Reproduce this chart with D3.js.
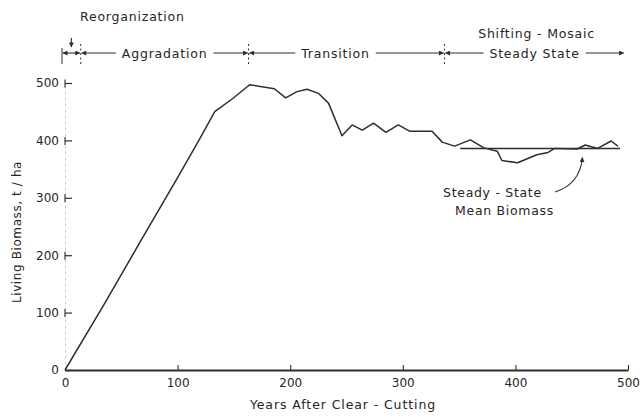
<!DOCTYPE html>
<html>
<head>
<meta charset="utf-8">
<script src="https://cdn.jsdelivr.net/npm/d3@7"></script>
<style>
  body { margin: 0; background: #fff; }
  text { font-family: "DejaVu Sans", sans-serif; fill: #262626; }
</style>
</head>
<body>
<svg id="chart" width="641" height="416"></svg>
<script>
// Living biomass of a northern hardwood forest after clear-cutting (t/ha)
const years   = [0, 35, 67, 100, 120, 133, 149, 164, 186, 196, 206, 215, 225, 234, 246, 255, 264, 274, 285, 296, 306, 326, 335, 346, 360, 372, 384, 388, 402, 419, 429, 435, 455, 462, 473, 485, 491];
const biomass = [0, 115, 224, 335, 404, 450, 473, 497, 490, 474, 485, 489, 482, 465, 408, 427, 418, 430, 414, 427, 416, 416, 397, 390, 401, 387, 381, 365, 361, 375, 379, 386, 385, 392, 386, 399, 390];

const steadyStateMean = 386;
const steadyStateYears = [351, 493];

const xTicks = [0, 100, 200, 300, 400, 500];
const yTicks = [0, 100, 200, 300, 400, 500];

// Successional phases along the time axis
const phaseNames  = ["Reorganization", "Aggradation", "Transition", "Steady State"];
const phaseStarts = [0, 14, 163, 337];
const phaseEnds   = [14, 163, 337, 497];

const svg = d3.select("#chart");
const ink = "#2e2e2e";

const x = d3.scaleLinear().domain([0, 500]).range([65, 628]);
const y = d3.scaleLinear().domain([0, 500]).range([370, 83]);

// arrowhead marker
const defs = svg.append("defs");
defs.append("marker")
  .attr("id", "arrow")
  .attr("viewBox", "0 0 10 10")
  .attr("refX", 9).attr("refY", 5)
  .attr("markerWidth", 7).attr("markerHeight", 5)
  .attr("markerUnits", "userSpaceOnUse")
  .attr("orient", "auto-start-reverse")
  .append("path").attr("d", "M0,0 L10,5 L0,10 Z").attr("fill", ink);

// ---- y axis: faint spine, inward ticks with short stubs ----
const yAxis = svg.append("g").attr("transform", `translate(${x(0)},0)`)
  .call(d3.axisLeft(y).tickValues(yTicks).tickSizeInner(-7).tickSizeOuter(0).tickPadding(6));
yAxis.select(".domain").attr("stroke", "#bbb").attr("stroke-width", 0.8).attr("stroke-dasharray", "3,3");
yAxis.selectAll(".tick line").attr("stroke", ink).attr("stroke-width", 1.2);
yAxis.selectAll(".tick").filter(d => d > 0).append("line")
  .attr("x1", 0).attr("x2", 0).attr("y1", -4).attr("y2", 4)
  .attr("stroke", ink).attr("stroke-width", 1.1);
yAxis.selectAll(".tick text").style("font-size", "12px").attr("fill", ink);

// ---- x axis ----
const xAxis = svg.append("g").attr("transform", `translate(0,${y(0)})`)
  .call(d3.axisBottom(x).tickValues(xTicks).tickSizeInner(-5).tickSizeOuter(0).tickPadding(8));
xAxis.select(".domain").attr("stroke", ink).attr("stroke-width", 1.8);
xAxis.selectAll(".tick line").attr("stroke", ink).attr("stroke-width", 1.1)
  .filter(d => d === 0).remove();
xAxis.selectAll(".tick text").style("font-size", "12px").attr("fill", ink);

// axis titles
svg.append("text")
  .attr("x", 343).attr("y", 409)
  .attr("text-anchor", "middle")
  .style("font-size", "12.5px").style("letter-spacing", "0.9px")
  .text("Years After  Clear - Cutting");

svg.append("text")
  .attr("transform", "translate(21,232) rotate(-90)")
  .attr("text-anchor", "middle")
  .style("font-size", "12px").style("letter-spacing", "0.6px")
  .text("Living Biomass,  t / ha");

// ---- biomass curve ----
const pts = years.map((t, i) => [t, biomass[i]]);
svg.append("path")
  .datum(pts)
  .attr("fill", "none").attr("stroke", ink).attr("stroke-width", 1.5)
  .attr("stroke-linejoin", "round")
  .attr("d", d3.line().x(d => x(d[0])).y(d => y(d[1])));

// steady-state mean
svg.append("line")
  .attr("x1", x(steadyStateYears[0])).attr("x2", x(steadyStateYears[1]))
  .attr("y1", y(steadyStateMean)).attr("y2", y(steadyStateMean))
  .attr("stroke", ink).attr("stroke-width", 1.4);

const noteFont = "12.5px";
svg.append("text").attr("x", 443).attr("y", 197)
  .style("font-size", noteFont).style("letter-spacing", "0.7px").text("Steady - State");
svg.append("text").attr("x", 455).attr("y", 215)
  .style("font-size", noteFont).style("letter-spacing", "0.7px").text("Mean  Biomass");
svg.append("path")
  .attr("d", `M555,192 Q580,184 ${x(460) - 0.5},${y(steadyStateMean) + 9}`)
  .attr("fill", "none").attr("stroke", ink).attr("stroke-width", 1.1)
  .attr("marker-end", "url(#arrow)");

// ---- phase bar along the top ----
const rowY = 53;
const phaseFont = "12.5px";
const labelShift = [0, 0, -11, 0];

// boundaries: solid at the origin, dashed between phases
svg.append("line").attr("x1", x(0) - 3).attr("x2", x(0) - 3)
  .attr("y1", 48).attr("y2", 64).attr("stroke", ink).attr("stroke-width", 1);
phaseStarts.slice(1).forEach(t => {
  svg.append("line").attr("x1", x(t)).attr("x2", x(t))
    .attr("y1", 44).attr("y2", 64)
    .attr("stroke", ink).attr("stroke-width", 1).attr("stroke-dasharray", "2,2.5");
});

phaseNames.forEach((name, i) => {
  const x1 = i === 0 ? x(phaseStarts[i]) - 3 : x(phaseStarts[i]);
  const x2 = x(phaseEnds[i]);
  if (i === 0) {
    // too narrow for its label: double arrow, label set above
    svg.append("line").attr("x1", x1 + 1).attr("x2", x2 - 1)
      .attr("y1", rowY).attr("y2", rowY)
      .attr("stroke", ink).attr("stroke-width", 1.1)
      .attr("marker-start", "url(#arrow)").attr("marker-end", "url(#arrow)");
    svg.append("text").attr("x", 80).attr("y", 21)
      .style("font-size", phaseFont).style("letter-spacing", "0.8px").text(name);
    svg.append("line").attr("x1", (x1 + x2) / 2).attr("x2", (x1 + x2) / 2)
      .attr("y1", 38).attr("y2", 47)
      .attr("stroke", ink).attr("stroke-width", 1.1).attr("marker-end", "url(#arrow)");
    return;
  }
  const cx = (x1 + x2) / 2 + labelShift[i];
  const label = svg.append("text").attr("x", cx).attr("y", rowY + 4.5)
    .attr("text-anchor", "middle")
    .style("font-size", phaseFont).style("letter-spacing", "0.8px").text(name);
  const w = label.node().getComputedTextLength();
  svg.append("line").attr("x1", cx - w / 2 - 6).attr("x2", x1 + 1)
    .attr("y1", rowY).attr("y2", rowY)
    .attr("stroke", ink).attr("stroke-width", 1.1).attr("marker-end", "url(#arrow)");
  svg.append("line").attr("x1", cx + w / 2 + 6).attr("x2", x2 - 1)
    .attr("y1", rowY).attr("y2", rowY)
    .attr("stroke", ink).attr("stroke-width", 1.1).attr("marker-end", "url(#arrow)");
  if (i === phaseNames.length - 1) {
    svg.append("text").attr("x", cx + 2).attr("y", 37.5)
      .attr("text-anchor", "middle")
      .style("font-size", phaseFont).style("letter-spacing", "0.8px").text("Shifting - Mosaic");
  }
});
</script>
</body>
</html>
